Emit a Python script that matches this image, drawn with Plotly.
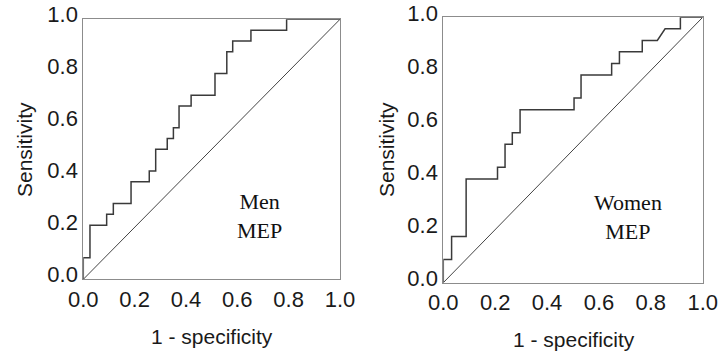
import plotly.graph_objects as go

# ---- data (ROC coordinates) ----
men_fpr = [0, 0, 0.026, 0.026, 0.091, 0.091, 0.117, 0.117, 0.186, 0.186, 0.257, 0.257,
           0.282, 0.282, 0.327, 0.327, 0.351, 0.351, 0.373, 0.373, 0.42, 0.42, 0.513, 0.513,
           0.559, 0.559, 0.582, 0.582, 0.653, 0.653, 0.792, 0.792, 1.0]
men_tpr = [0, 0.083, 0.083, 0.208, 0.208, 0.25, 0.25, 0.292, 0.292, 0.375, 0.375, 0.417,
           0.417, 0.5, 0.5, 0.542, 0.542, 0.583, 0.583, 0.667, 0.667, 0.708, 0.708, 0.792,
           0.792, 0.875, 0.875, 0.917, 0.917, 0.958, 0.958, 1.0, 1.0]

women_fpr = [0, 0, 0.032, 0.032, 0.088, 0.088, 0.209, 0.209, 0.238, 0.238, 0.266, 0.266,
             0.296, 0.296, 0.504, 0.504, 0.531, 0.531, 0.649, 0.649, 0.679, 0.679, 0.767,
             0.767, 0.825, 0.855, 0.914, 0.914, 1.0]
women_tpr = [0, 0.087, 0.087, 0.174, 0.174, 0.391, 0.391, 0.435, 0.435, 0.522, 0.522, 0.565,
             0.565, 0.652, 0.652, 0.696, 0.696, 0.783, 0.783, 0.826, 0.826, 0.870, 0.870,
             0.913, 0.913, 0.957, 0.957, 1.0, 1.0]

ref_line = [0, 1]
tick_vals = [0, 0.2, 0.4, 0.6, 0.8, 1.0]
tick_text = ["0.0", "0.2", "0.4", "0.6", "0.8", "1.0"]
x_title = "1 - specificity"
y_title = "Sensitivity"
panel_labels = ["Men<br>MEP", "Women<br>MEP"]

W, H = 720, 351
SANS = "Liberation Sans, Arial, sans-serif"
SERIF = "Liberation Serif, Times New Roman, serif"

fig = go.Figure()

curve_color = "#3a3a3a"
for xa, ya, fx, fy in [("x", "y", men_fpr, men_tpr), ("x2", "y2", women_fpr, women_tpr)]:
    fig.add_trace(go.Scatter(x=ref_line, y=ref_line, mode="lines", xaxis=xa, yaxis=ya,
                             line=dict(color="#444444", width=1), showlegend=False,
                             hoverinfo="skip"))
    fig.add_trace(go.Scatter(x=fx, y=fy, mode="lines", xaxis=xa, yaxis=ya,
                             line=dict(color=curve_color, width=1.5), showlegend=False))

def px_x(p):
    return p / W

def px_y(p):
    return (H - p) / H

axis_common = dict(range=[0, 1], tickvals=tick_vals, ticktext=tick_text, showgrid=False,
                   zeroline=False, showline=True, mirror=True, linecolor="#8c8c8c",
                   linewidth=1, ticks="", tickfont=dict(family=SANS, size=22, color="#1a1a1a"),
                   fixedrange=True, automargin=False)

fig.update_layout(
    width=W, height=H,
    margin=dict(l=0, r=0, t=0, b=0, autoexpand=False),
    paper_bgcolor="white", plot_bgcolor="white",
    xaxis=dict(domain=[px_x(83.3), px_x(340)], anchor="y", **axis_common),
    yaxis=dict(domain=[px_y(279.3), px_y(19.3)], anchor="x", ticklabelshift=-5, **axis_common),
    xaxis2=dict(domain=[px_x(443.3), px_x(702.7)], anchor="y2", **axis_common),
    yaxis2=dict(domain=[px_y(282.7), px_y(17.3)], anchor="x2", ticklabelshift=-4, **axis_common),
)

annotations = [
    dict(x=px_x(24), y=px_y(150), text=y_title, textangle=-90),
    dict(x=px_x(212), y=px_y(336), text=x_title),
    dict(x=px_x(386), y=px_y(150), text=y_title, textangle=-90),
    dict(x=px_x(574), y=px_y(339), text=x_title),
]
for a in annotations:
    fig.add_annotation(xref="paper", yref="paper", showarrow=False, xanchor="center",
                       yanchor="middle", font=dict(family=SANS, size=21, color="#1a1a1a"), **a)

fig.add_annotation(xref="x", yref="y", x=0.686, y=0.243, text=panel_labels[0], showarrow=False,
                   font=dict(family=SERIF, size=22, color="#111111"))
fig.add_annotation(xref="x2", yref="y2", x=0.712, y=0.246, text=panel_labels[1], showarrow=False,
                   font=dict(family=SERIF, size=22, color="#111111"))

fig.write_html("out.html", config={"displayModeBar": False},
               post_script="document.body.style.margin='0';")
